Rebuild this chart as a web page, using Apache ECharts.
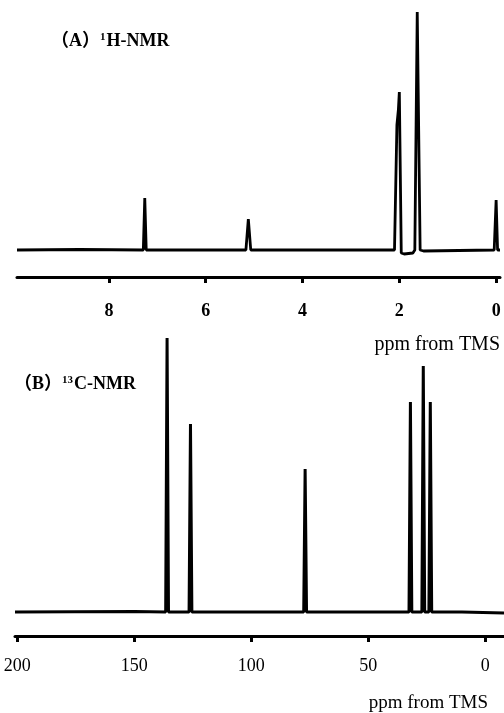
<!DOCTYPE html>
<html>
<head>
<meta charset="utf-8">
<script src="https://cdn.jsdelivr.net/npm/echarts@6/dist/echarts.min.js"></script>
<style>html,body{margin:0;padding:0;background:#fff}#c{width:504px;height:713px}</style>
</head>
<body>
<div id="c"></div>
<script>
// Panel A: 1H-NMR trace [ppm, intensity]
const hSpectrum = [
  [9.9, 0], [8.6, 0.5], [7.29, 0], [7.26, 52], [7.23, 0],
  [5.17, 0], [5.12, 31], [5.07, 0],
  [2.1, 0], [2.05, 125], [2.02, 140], [2.0, 158], [1.96, -3], [1.9, -4], [1.72, -3],
  [1.68, 0], [1.63, 238], [1.57, 0], [1.5, -1],
  [0.04, 0], [0.0, 50], [-0.03, 0], [-0.08, 0]
];
const hTicks = [0, 2, 4, 6, 8];

// Panel B: 13C-NMR trace [ppm, intensity]
const cSpectrum = [
  [201, 0], [150, 0.5], [136.6, 0], [136, 274], [135.4, 0],
  [126.6, 0], [126, 188], [125.4, 0],
  [77.6, 0], [77, 143], [76.4, 0],
  [32.6, 0], [32, 210], [31.4, 0],
  [27.1, 0], [26.5, 246], [25.9, 0],
  [24.1, 0], [23.5, 210], [22.9, 0],
  [10, 0], [-8, -1]
];
const cTicks = [0, 50, 100, 150, 200];

const serif = "'Liberation Serif', 'Times New Roman', serif";
const chart = echarts.init(document.getElementById('c'), null, {renderer: 'canvas'});

function xAx(gi, min, max, ticks, margin, bold, size) {
  return {
    gridIndex: gi, type: 'value', inverse: true, min: min, max: max,
    axisLine: {show: true, onZero: false, lineStyle: {color: '#000', width: 3}},
    axisTick: {show: true, customValues: ticks, length: 6, inside: false, lineStyle: {color: '#000', width: 3}},
    axisLabel: {show: true, customValues: ticks, margin: margin, color: '#000',
      fontFamily: serif, fontSize: size, fontWeight: bold ? 'bold' : 'normal'},
    splitLine: {show: false}
  };
}
function yAx(gi, min, max) {
  return {gridIndex: gi, type: 'value', min: min, max: max, show: false,
    axisLine: {show: false}, axisTick: {show: false}, axisLabel: {show: false}, splitLine: {show: false}};
}

chart.setOption({
  animation: false,
  backgroundColor: '#fff',
  grid: [
    {left: 17, right: 4, top: 10, bottom: 436},
    {left: 15, right: 0, top: 336, bottom: 77}
  ],
  xAxis: [
    xAx(0, -0.08, 9.9, hTicks, 25, true, 18),
    xAx(1, -8, 201, cTicks, 21, false, 18)
  ],
  yAxis: [yAx(0, -27, 240), yAx(1, -24, 276)],
  series: [
    {type: 'line', xAxisIndex: 0, yAxisIndex: 0, data: hSpectrum, showSymbol: false,
      lineStyle: {color: '#000', width: 2.8}, clip: false},
    {type: 'line', xAxisIndex: 1, yAxisIndex: 1, data: cSpectrum, showSymbol: false,
      lineStyle: {color: '#000', width: 3}, clip: false}
  ],
  graphic: [
    {type: 'text', x: 51, y: 41, style: {
      text: '（A）{s|1}H-NMR', fill: '#000', verticalAlign: 'middle',
      font: "bold 18px 'Liberation Serif', 'Noto Sans CJK SC', serif",
      rich: {s: {fontSize: 11, fontWeight: 'bold', fontFamily: serif, verticalAlign: 'top', padding: [0, 1, 8, 0]}}
    }},
    {type: 'text', x: 14, y: 384, style: {
      text: '（B）{s|13}C-NMR', fill: '#000', verticalAlign: 'middle',
      font: "bold 18px 'Liberation Serif', 'Noto Sans CJK SC', serif",
      rich: {s: {fontSize: 11, fontWeight: 'bold', fontFamily: serif, verticalAlign: 'top', padding: [0, 1, 8, 0]}}
    }},
    {type: 'text', x: 500, y: 345, style: {
      text: 'ppm from TMS', fill: '#000', align: 'right', verticalAlign: 'middle',
      font: "20px 'Liberation Serif', serif"}},
    {type: 'text', x: 488, y: 703, style: {
      text: 'ppm from TMS', fill: '#000', align: 'right', verticalAlign: 'middle',
      font: "19px 'Liberation Serif', serif"}}
  ]
});
</script>
</body>
</html>
